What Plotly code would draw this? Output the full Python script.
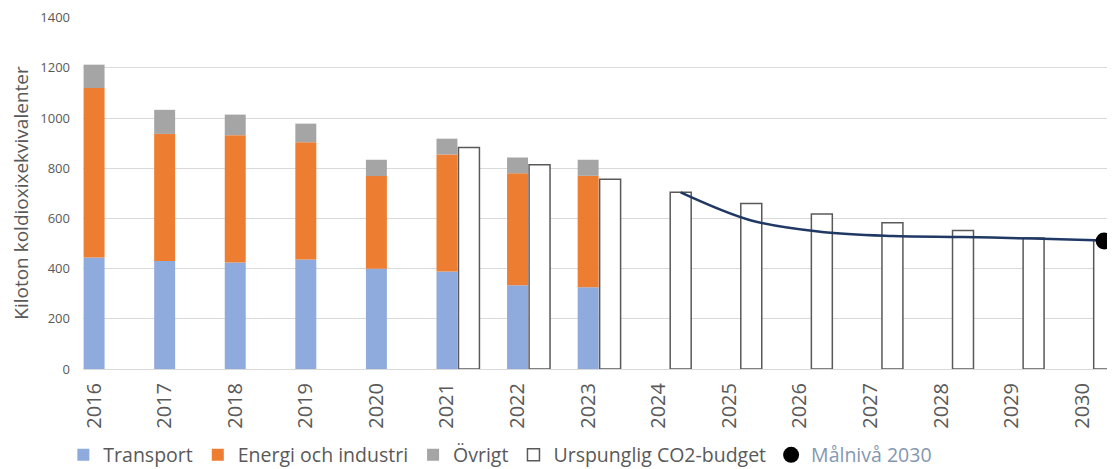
import numpy as np
import plotly.graph_objects as go

# Historical emissions (kiloton CO2e)
years_hist = [2016, 2017, 2018, 2019, 2020, 2021, 2022, 2023]
transport = [444, 430, 424, 436, 400, 389, 334, 326]
energi = [676, 507, 508, 468, 369, 466, 446, 444]
ovrigt = [93, 96, 82, 74, 65, 63, 63, 64]

# Original CO2 budget
years_budget = [2021, 2022, 2023, 2024, 2025, 2026, 2027, 2028, 2029, 2030]
budget = [883, 814, 756, 704, 660, 618, 583, 552, 522, 512]

# Smoothed pathway 2024-2030 and 2030 target
years_path = [2024, 2025, 2026, 2027, 2028, 2029, 2030]
path = [704, 592, 546, 530, 526, 520, 512]
target_year = [2030]
target = [510]

c_transport = "#8FAADC"
c_energi = "#ED7D31"
c_ovrigt = "#A5A5A5"
c_line = "#203864"
grey_text = "#595959"

bar_w = 0.297
budget_off = 0.163
path_shift = budget_off + bar_w / 2

base_energi = np.array(transport)
base_ovrigt = np.array(transport) + np.array(energi)

fig = go.Figure()

fig.add_trace(go.Bar(
    x=years_hist, y=transport, name="Transport",
    width=bar_w, offset=-bar_w / 2,
    marker=dict(color=c_transport, line=dict(width=0)),
))
fig.add_trace(go.Bar(
    x=years_hist, y=energi, base=base_energi, name="Energi och industri",
    width=bar_w, offset=-bar_w / 2,
    marker=dict(color=c_energi, line=dict(width=0)),
))
fig.add_trace(go.Bar(
    x=years_hist, y=ovrigt, base=base_ovrigt, name="Övrigt",
    width=bar_w, offset=-bar_w / 2,
    marker=dict(color=c_ovrigt, line=dict(width=0)),
))
fig.add_trace(go.Bar(
    x=years_budget, y=budget, name="Urspunglig CO2-budget",
    width=bar_w, offset=budget_off,
    marker=dict(color="white", line=dict(color="#595959", width=1.5)),
))

# Smooth pathway line (not in legend)
fig.add_trace(go.Scatter(
    x=[y + path_shift for y in years_path], y=path,
    mode="lines", line=dict(color=c_line, width=2.5, shape="spline"),
    showlegend=False, hoverinfo="skip",
))
fig.add_trace(go.Scatter(
    x=[y + path_shift for y in target_year], y=target,
    mode="markers", name="<span style='color:#8497B0'>Målnivå 2030</span>",
    marker=dict(color="black", size=17),
))

# Page body has an 8px margin, so the figure is sized to fit inside the window
fig.update_layout(
    width=1107,
    height=461,
    barmode="overlay",
    plot_bgcolor="white",
    paper_bgcolor="white",
    margin=dict(l=75, r=0, t=9, b=100),
    font=dict(family="Open Sans", color=grey_text),
    legend=dict(
        orientation="h",
        xref="container", yref="container",
        x=0.05, y=0.03, xanchor="left", yanchor="middle",
        font=dict(size=19.5, color=grey_text),
        traceorder="normal",
    ),
    xaxis=dict(
        range=[2015.843, 2030.465],
        tickmode="array",
        tickvals=list(range(2016, 2031)),
        ticktext=[str(y) for y in range(2016, 2031)],
        tickangle=-90,
        tickfont=dict(size=20, color=grey_text),
        ticklabelstandoff=9,
        showgrid=False,
        zeroline=False,
        showline=False,
        ticks="",
    ),
    yaxis=dict(
        range=[0, 1403],
        tickvals=[0, 200, 400, 600, 800, 1000, 1200, 1400],
        tickfont=dict(size=13, color=grey_text),
        ticklabeloverflow="allow",
        gridcolor="#D9D9D9",
        gridwidth=1,
        zeroline=True,
        zerolinecolor="#D9D9D9",
        zerolinewidth=1,
        ticklabelstandoff=12,
        title=dict(text="Kiloton koldioxixekvivalenter",
                   font=dict(size=19, color=grey_text), standoff=9),
        automargin=False,
    ),
)

fig.write_html("out.html")
